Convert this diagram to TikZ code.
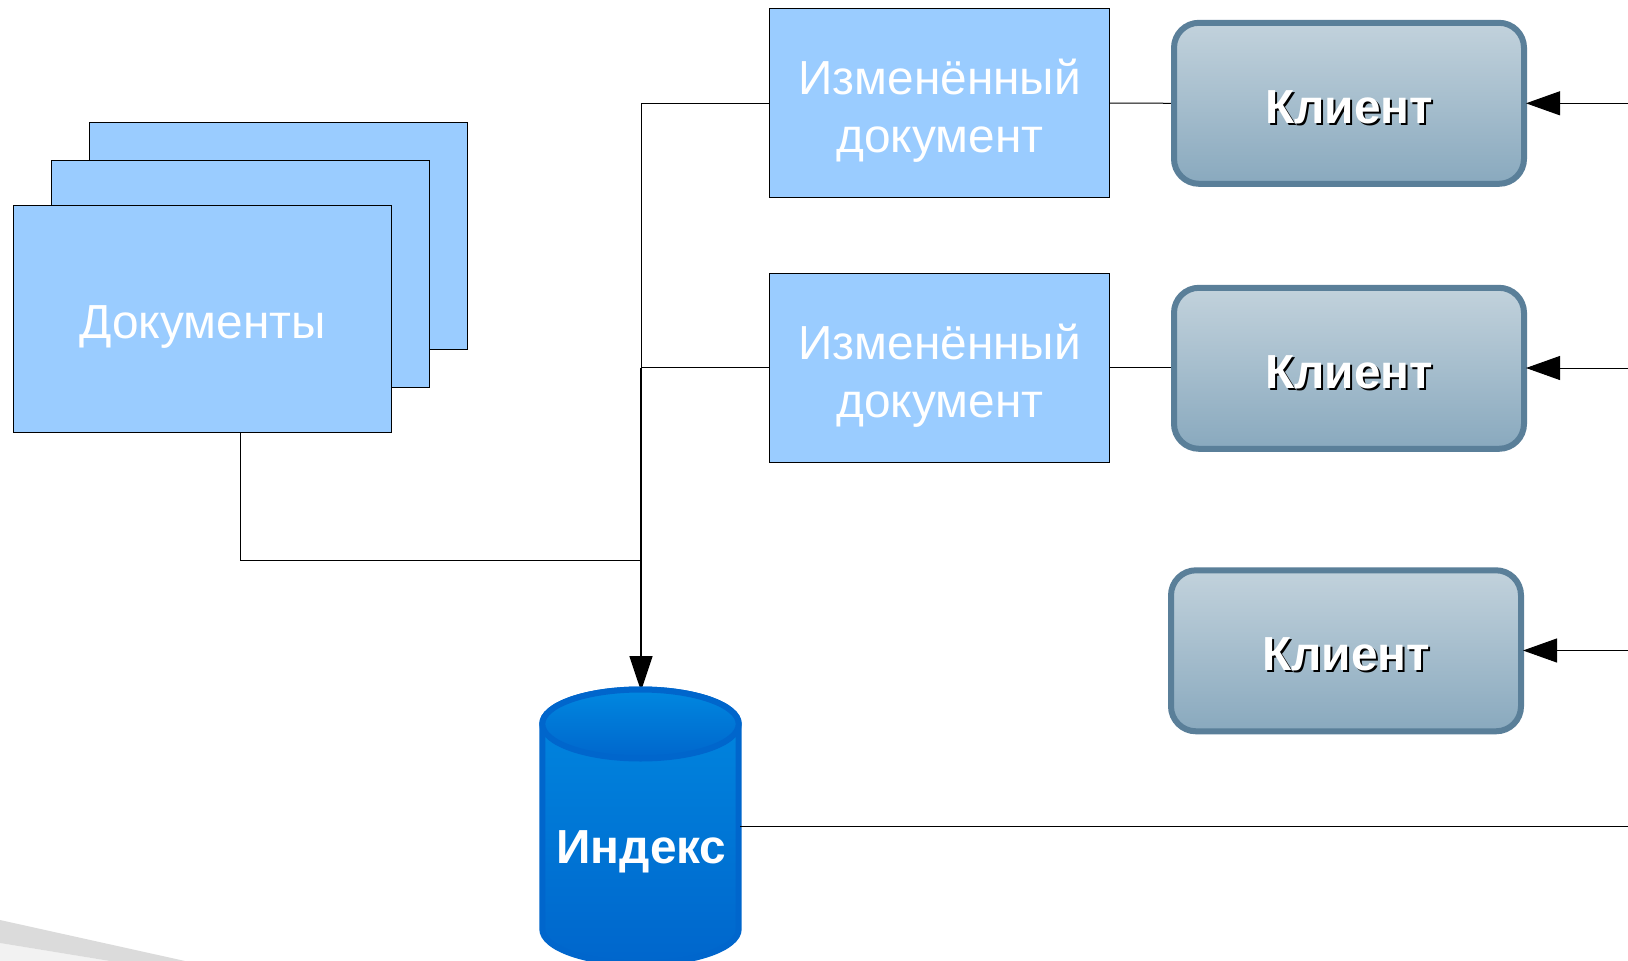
\documentclass[tikz,border=0pt]{standalone}
\usepackage{fontspec}
\setmainfont{Liberation Sans}
\usetikzlibrary{arrows.meta,calc}
\definecolor{paper}{HTML}{9ACCFF}
\definecolor{clientedge}{HTML}{5A7F99}
\definecolor{clienttop}{HTML}{C2D2DC}
\definecolor{clientbot}{HTML}{89A9BE}
\definecolor{cyledge}{HTML}{0066CC}
\definecolor{cyltop}{HTML}{0088E0}
\newcommand{\shadowtxt}[1]{\makebox[0pt][l]{\kern2pt\raisebox{-2pt}{\color{black}#1}}{\color{white}#1}}
\tikzset{
  x=1pt,y=-1pt,
  every node/.style={font=\fontsize{47.8}{58}\selectfont,inner sep=0pt,outer sep=0pt},
  paperbox/.style={draw=black,line width=1pt,fill=paper,text=white,align=center,anchor=center},
  twoline/.style={text height=109pt,text depth=10pt},
  clientbox/.style={rounded corners=25pt,draw=clientedge,line width=6pt,
     top color=clienttop,bottom color=clientbot,minimum width=350pt,minimum height=161pt,
     text height=40pt,text depth=0pt,font=\fontsize{47.8}{58}\selectfont\bfseries},
  link/.style={draw=black,line width=1pt},
  arrowlink/.style={link,-{Triangle[length=34pt,width=24pt]}},
  trunklink/.style={draw=black,line width=1.7pt,-{Triangle[length=35pt,width=23pt]}},
}
\begin{document}
\begin{tikzpicture}
\useasboundingbox (0,0) rectangle (1628,961);
\fill[white] (0,0) rectangle (1628,961);
% background swoosh
\fill[black!5] (0,943) -- (110,961) -- (0,961) -- cycle;
\fill[black!14] (0,920) -- (185,961) -- (110,961) -- (0,943) -- cycle;
% document stack
\node[paperbox,minimum width=378pt,minimum height=226.5pt] (docback) at (278,235.75) {};
\node[paperbox,minimum width=378pt,minimum height=227.5pt] (docmid) at (240.25,273.9) {};
\node[paperbox,minimum width=378pt,minimum height=227.5pt,text height=39pt,text depth=0pt] (docfront) at (202.5,319.2) {Документы};
% named free points
\coordinate (docout) at (240,433);
\coordinate (idxtop) at (641,691);
\coordinate (idxright) at (740,826.3);
\coordinate (in1) at (1628,103.3);
\coordinate (in2) at (1628,368);
\coordinate (in3) at (1628,650.5);
\coordinate (outidx) at (1628,826.3);
% changed docs
\node[paperbox,twoline,minimum width=340pt,minimum height=189pt] (chg1) at (939.8,103) {Изменённый\\документ};
\node[paperbox,twoline,minimum width=340pt,minimum height=189pt] (chg2) at (939.8,367.7) {Изменённый\\документ};
% links behind
\coordinate (j2) at (641,367.7);
\coordinate (j3) at (641,560);
\draw[link] (chg1.west) -| (j2);
\draw[link] (chg2.west) -- (j2);
\draw[link] (docout) |- (j3);
\draw[trunklink] (j2) -- (idxtop);
% client links
\coordinate (c1l) at (1174,103.3);
\coordinate (c2l) at (1174,367.7);
\draw[link] (chg1.east) -- (c1l);
\draw[link] (chg2.east) -- (c2l);
% clients
\node[clientbox] (cl1) at (1349,103.3) {\shadowtxt{Клиент}};
\node[clientbox] (cl2) at (1349,368.3) {\shadowtxt{Клиент}};
\node[clientbox] (cl3) at (1346,650.8) {\shadowtxt{Клиент}};
\draw[arrowlink] (in1) -- ($(cl1.east)+(2,0)$);
\draw[arrowlink] (in2) -- ($(cl2.east)+(2,-0.3)$);
\draw[arrowlink] (in3) -- ($(cl3.east)+(2,-0.3)$);
% cylinder
\path[draw=cyledge,line width=6pt,top color=cyltop,bottom color=cyledge]
  (542.3,724) -- (542.3,929) arc[start angle=180,end angle=0,x radius=98.2,y radius=34.5]
  -- (738.7,724) arc[start angle=0,end angle=-180,x radius=98.2,y radius=34.5] -- cycle;
\path[draw=cyledge,line width=6pt,top color=cyltop,bottom color=cyledge]
  (640.5,724) ellipse[x radius=98.2,y radius=34.5];
\node[anchor=base,text=white,font=\fontsize{47.8}{58}\selectfont\bfseries] (idx) at (641.5,863.5) {Индекс};
\draw[link] (idxright) -- (outidx);
\end{tikzpicture}
\end{document}
